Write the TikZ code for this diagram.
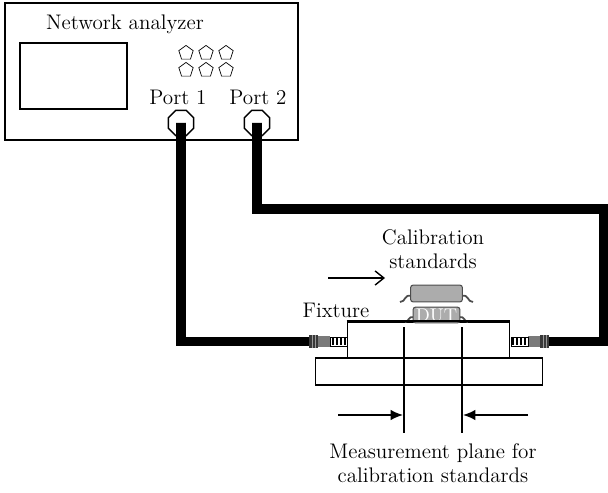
\documentclass[tikz,border=0pt]{standalone}
\usepackage{tikz}
\usetikzlibrary{arrows.meta, shapes.geometric}

\tikzset{
  lbl/.style={font=\fontsize{12}{13.5}\selectfont, align=center, inner sep=0pt},
  cable/.style={line width=5.4pt, line join=miter},
  chip/.style={draw=gray!60!black, fill=gray!65, rounded corners=1.5pt, line width=0.6pt},
  leg/.style={gray!60!black, line width=1pt},
  knob/.style={draw, regular polygon, regular polygon sides=5, minimum size=8.6pt, inner sep=0pt, line width=0.4pt},
  portring/.style={draw, regular polygon, regular polygon sides=8, minimum size=15.5pt, inner sep=0pt, line width=0.8pt}
}

\begin{document}
\begin{tikzpicture}[x=0.02cm, y=-0.02cm]
\useasboundingbox (0,0) rectangle (608,493);

% network analyzer
\draw[line width=1.1pt] (5,3) rectangle (298,140);
\node[draw, line width=1.1pt, minimum width=107*0.567pt, minimum height=66*0.567pt, inner sep=0pt] (screen) at (73.5,76) {};
\node[lbl] (title) at (125,24) {Network analyzer};
\foreach \x in {186,206,226}
  \foreach \y in {53,70}
    \node[knob] at (\x,\y) {};
\node[lbl] (p1label) at (178,97) {Port 1};
\node[lbl] (p2label) at (258,97) {Port 2};
\node[portring] (port1) at (181,123) {};
\node[portring] (port2) at (257,123) {};

% fixture
\node[draw, line width=0.9pt, minimum width=228*0.567pt, minimum height=27*0.567pt, inner sep=0pt] (base) at (429,371.5) {};
\node[draw, fill=white, line width=0.9pt, minimum width=163*0.567pt, minimum height=36*0.567pt, inner sep=0pt] (fixture) at (428.5,340) {};
\node[lbl] (fixlabel) at (336,310) {Fixture};

% coax connectors on both sides
\foreach \s/\x in {1/309, -1/549} {
  \begin{scope}[shift={(\x,341.5)}, xscale=\s]
    \fill[gray!45!black] (0,-6.5) rectangle (9,6.5);
    \draw[gray!80, line width=0.3pt] (3,-6.5) -- (3,6.5) (6,-6.5) -- (6,6.5);
    \fill[gray!70!black!80] (9,-5.5) rectangle (21,5.5);
    \draw[fill=white, line width=0.5pt] (21,-4.5) rectangle (38,4.5);
    \foreach \t in {24,28,32,36}
      \fill (\t-1,-3.5) rectangle (\t+0.6,3.5);
  \end{scope}
}
\coordinate (lplug) at (309,341.5);
\coordinate (rplug) at (549,341.5);

% cables
\draw[cable] (port1.center) |- (lplug);
\draw[cable] (port2.center) -- (257,209) -- (604,209) -- (604,341.5) -- (rplug);
\foreach \p in {port1, port2}
  \fill ([xshift=-2.8pt]\p.center) -- ++(0,-2.5pt) -- ++(2.8pt,-2.8pt) -- ++(2.8pt,2.8pt) -- ++(0,2.5pt) -- cycle;

% calibration standard and DUT
\draw[leg] (411,296) .. controls (404,294) and (406,302) .. (400,302);
\draw[leg] (462,296) .. controls (469,294) and (467,302) .. (473,302);
\node[chip, minimum width=52*0.567pt, minimum height=17*0.567pt, inner sep=0pt] (calstd) at (436.5,293.5) {};
\draw[leg] (414,317) .. controls (408,316) and (409,322) .. (405,322);
\draw[leg] (459,317) .. controls (465,316) and (464,322) .. (468,322);
\node[chip, minimum width=47*0.567pt, minimum height=16*0.567pt, inner sep=0pt, text=white, font=\fontsize{10.5}{10.5}\selectfont] (dut) at (436.5,315) {DUT};
\draw[line width=0.9pt] (fixture.north west) -- (fixture.north east);

\node[lbl] (callabel) at (433,249) {Calibration\\standards};
\draw[-{Straight Barb[length=5pt, width=8pt]}, line width=0.8pt] (328,278) -- (385,278);

% measurement planes
\draw[line width=1.2pt] (404,327) -- (404,433);
\draw[line width=1.2pt] (462,327) -- (462,433);
\draw[-{Latex[length=7pt, width=6pt]}, line width=1pt] (338,415) -- (403,415);
\draw[-{Latex[length=7pt, width=6pt]}, line width=1pt] (528,415) -- (463,415);
\node[lbl] (planelabel) at (433,463) {Measurement plane for\\calibration standards};
\end{tikzpicture}
\end{document}
